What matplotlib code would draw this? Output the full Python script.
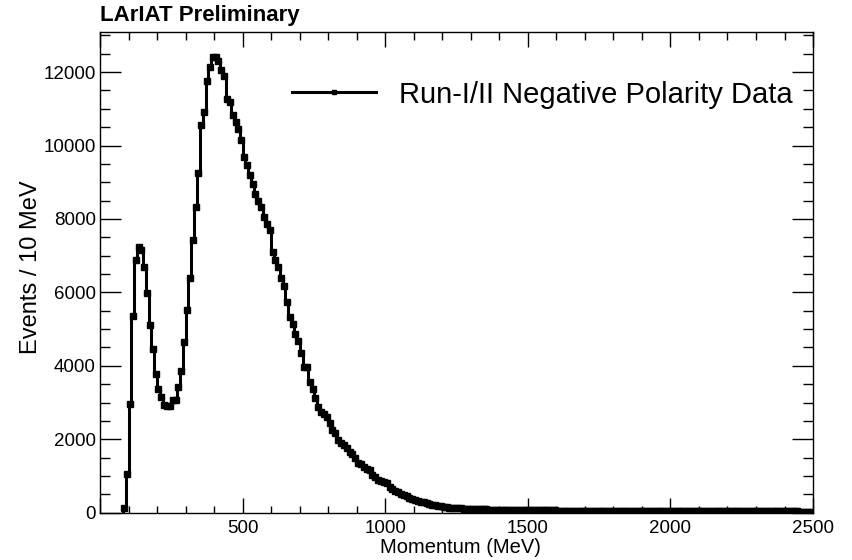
import numpy as np
import matplotlib
matplotlib.use('Agg')
import matplotlib.pyplot as plt
from matplotlib.ticker import MultipleLocator, FuncFormatter

plt.rcParams['font.family'] = ['Liberation Sans', 'DejaVu Sans']

# 10 MeV bins, first bin starts at 80 MeV
bin_start = 80
bin_width = 10

counts_low = [120, 1050, 2950, 5360, 6870, 7240, 7150, 6690, 5970, 5100,
              4470, 3790, 3360, 3160, 2930, 2900, 2900, 3070, 3070, 3430,
              3860, 4650, 5530, 6380, 7420]                      # 80 - 320
counts_peak = [8320, 9250, 10550, 10900, 11770, 12150, 12400, 12420, 12300, 12050,
               11880, 11270, 11180, 10820, 10640, 10460, 10140, 9680, 9460, 9190,
               8960, 8690, 8500, 8320, 8050, 7850, 7690]         # 330 - 590
counts_fall = [7100, 6870, 6690, 6380, 6170, 5740, 5330, 5150, 4880, 4680,
               4340, 3970, 3960, 3560, 3380, 3110, 2880, 2750, 2680, 2610,
               2430, 2250, 2160, 1980, 1900, 1840, 1750, 1640, 1600, 1480,
               1340, 1330, 1250, 1200, 1160, 1030, 960, 890, 850, 830,
               800, 700, 650, 600, 570, 520, 480, 450, 400, 380,
               340, 330, 300, 280, 260, 240, 220, 200, 190, 170,
               160, 150]                                         # 600 - 1210
counts_tail = [140, 132, 128, 120, 118, 112, 110, 104,
               100, 98, 95, 92, 90, 88, 85, 84, 82, 80,
               80, 78, 76, 75, 74, 72, 72, 70, 70, 68,
               68, 66, 66, 64, 64, 62, 62, 60, 60, 60,
               58, 58, 58, 56, 56, 56, 55, 55, 54, 54,
               54, 53, 53, 52, 52, 52, 51, 51, 50, 50,
               50, 50, 49, 49, 48, 48, 48, 47, 47, 47,
               46, 46, 46, 45, 45, 45, 44, 44, 44, 44,
               43, 43, 43, 42, 42, 42, 42, 41, 41, 41,
               40, 40, 40, 40, 39, 39, 39, 39, 38, 38,
               38, 38, 38, 37, 37, 37, 37, 36, 36, 36,
               36, 36, 35, 35, 35, 35, 34, 34, 34, 34,
               34, 33, 33, 33, 33, 32, 32, 32, 32, 32]           # 1220 - 2490

counts = np.array(counts_low + counts_peak + counts_fall + counts_tail, dtype=float)
centers = bin_start + bin_width * (np.arange(len(counts)) + 0.5)

fig = plt.figure(figsize=(8.52, 5.60), dpi=100)
ax = fig.add_axes([0.1174, 0.0845, 0.8369, 0.8589])

ax.plot(centers, counts, drawstyle='steps-mid', color='black', lw=2.2,
        marker='s', ms=4.8, label='Run-I/II Negative Polarity Data')
# drop to zero on the left edge of the first bin
ax.plot([bin_start, bin_start], [0, counts[0]], color='black', lw=2.2)

ax.set_xlim(0, 2500)
ax.set_ylim(0, 13100)

ax.xaxis.set_major_locator(MultipleLocator(500))
ax.xaxis.set_minor_locator(MultipleLocator(100))
ax.xaxis.set_major_formatter(FuncFormatter(lambda v, p: '' if v == 0 else '%d' % v))
ax.yaxis.set_major_locator(MultipleLocator(2000))
ax.yaxis.set_minor_locator(MultipleLocator(500))

ax.tick_params(axis='both', which='both', direction='in', top=True, right=True,
               labelsize=13.5, width=1)
ax.tick_params(axis='x', which='major', length=10.8, pad=5)
ax.tick_params(axis='x', which='minor', length=5.4)
ax.tick_params(axis='y', which='major', length=15, pad=3)
ax.tick_params(axis='y', which='minor', length=7.5)
for s in ax.spines.values():
    s.set_linewidth(1)

ax.set_xlabel('Momentum (MeV)', fontsize=14.5)
ax.set_ylabel('Events / 10 MeV', fontsize=17)
ax.xaxis.set_label_coords(0.505, -0.053)
ax.yaxis.set_label_coords(-0.081, 0.51)

leg = ax.legend(loc='center left', bbox_to_anchor=(0.269, 0.869), frameon=False,
                fontsize=21, handlelength=2.9, handletextpad=0.76,
                borderpad=0, borderaxespad=0, numpoints=1, markerscale=0.7)

fig.text(0.1174, 0.962, 'LArIAT Preliminary', fontsize=16, fontweight='bold',
         ha='left', va='baseline')

fig.savefig('out.png', dpi=100)
